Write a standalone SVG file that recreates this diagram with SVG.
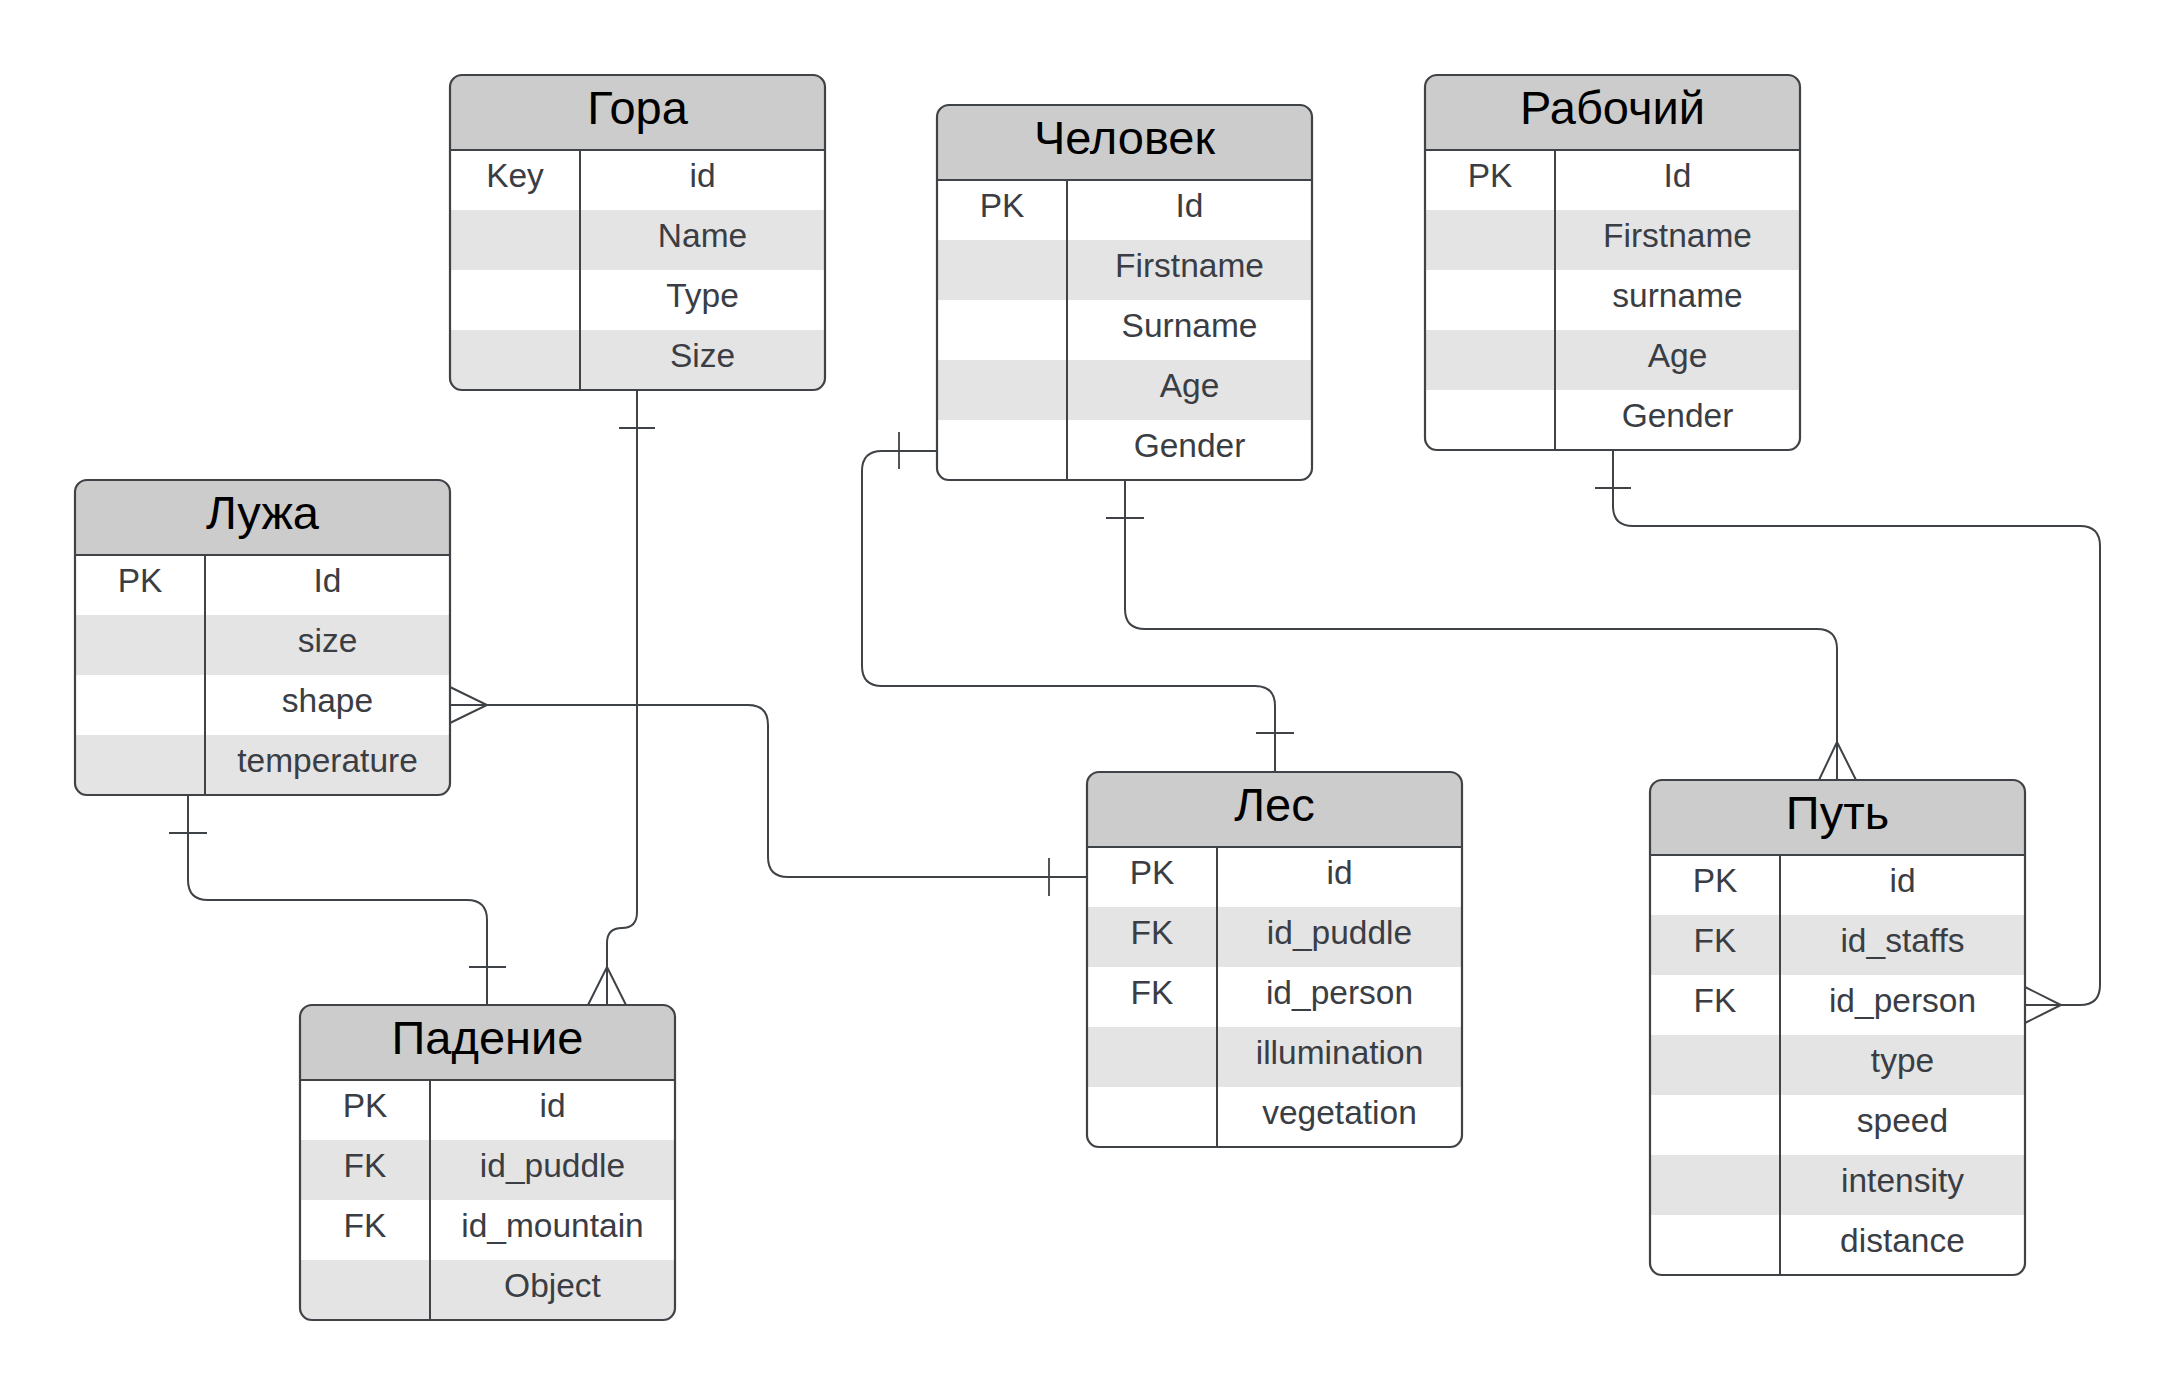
<svg xmlns="http://www.w3.org/2000/svg" width="2175" height="1395" viewBox="0 0 2175 1395">
<style>
.bg{fill:#ffffff}
.hd{fill:#cccccc}
.alt{fill:#e4e4e4}
.ln{stroke:#3f4246;stroke-width:2;fill:none}
.out{stroke:#3f4246;stroke-width:2.2;fill:none}
.title{font-family:"Liberation Sans",Arial,sans-serif;font-size:47px;fill:#000000;text-anchor:middle}
.f{font-family:"Liberation Sans",Arial,sans-serif;font-size:33.5px;fill:#3a3e44;text-anchor:middle}
.c{stroke:#3f4246;stroke-width:2;fill:none}
.bar{stroke:#3f4246;stroke-width:1.8;fill:none}
</style>
<defs>
<clipPath id="clip4"><rect x="0" y="0" width="375" height="315" rx="12"/></clipPath>
<clipPath id="clip5"><rect x="0" y="0" width="375" height="375" rx="12"/></clipPath>
<clipPath id="clip7"><rect x="0" y="0" width="375" height="495" rx="12"/></clipPath>
</defs>
<rect x="0" y="0" width="2175" height="1395" fill="#ffffff"/>

<g id="connectors">
<!-- Гора -> Падение -->
<path class="c" d="M637,390 V912 Q637,928 622,928 Q607,928 607,943 V1005"/>
<path class="bar" d="M619,428 H655"/>
<path class="c" d="M588,1005 L607,967 L626,1005"/>
<!-- Лужа -> Падение -->
<path class="c" d="M188,795 V880 Q188,900 208,900 H467 Q487,900 487,920 V1005"/>
<path class="bar" d="M169,833 H207"/>
<path class="bar" d="M469,967 H506"/>
<!-- Лужа -> Лес -->
<path class="c" d="M450,705 H748 Q768,705 768,725 V857 Q768,877 788,877 H1087"/>
<path class="c" d="M450,687 L487,705 L450,723"/>
<path class="bar" d="M1049,858 V896"/>
<!-- Человек -> Лес -->
<path class="c" d="M937,451 H882 Q862,451 862,471 V666 Q862,686 882,686 H1255 Q1275,686 1275,706 V772"/>
<path class="bar" d="M899,432 V469"/>
<path class="bar" d="M1256,733 H1294"/>
<!-- Человек -> Путь -->
<path class="c" d="M1125,480 V609 Q1125,629 1145,629 H1817 Q1837,629 1837,649 V780"/>
<path class="bar" d="M1106,518 H1144"/>
<path class="c" d="M1819,780 L1837,742 L1856,780"/>
<!-- Рабочий -> Путь -->
<path class="c" d="M1613,450 V506 Q1613,526 1633,526 H2080 Q2100,526 2100,546 V985 Q2100,1005 2080,1005 H2025"/>
<path class="bar" d="M1595,488 H1631"/>
<path class="c" d="M2025,987 L2061,1005 L2025,1023"/>
</g>

<g id="gora" transform="translate(450,75)">
<g clip-path="url(#clip4)">
<rect class="bg" x="0" y="0" width="375" height="315"/>
<rect class="hd" x="0" y="0" width="375" height="75"/>
<rect class="alt" x="0" y="135" width="375" height="60"/>
<rect class="alt" x="0" y="255" width="375" height="60"/>
</g>
<path class="ln" d="M0,75 H375 M130,75 V315"/>
<rect class="out" x="0" y="0" width="375" height="315" rx="12"/>
<text class="title" x="187.5" y="49">Гора</text>
<text class="f" x="65" y="112">Key</text>
<text class="f" x="252.5" y="112">id</text>
<text class="f" x="252.5" y="172">Name</text>
<text class="f" x="252.5" y="232">Type</text>
<text class="f" x="252.5" y="292">Size</text>
</g>

<g id="luzha" transform="translate(75,480)">
<g clip-path="url(#clip4)">
<rect class="bg" x="0" y="0" width="375" height="315"/>
<rect class="hd" x="0" y="0" width="375" height="75"/>
<rect class="alt" x="0" y="135" width="375" height="60"/>
<rect class="alt" x="0" y="255" width="375" height="60"/>
</g>
<path class="ln" d="M0,75 H375 M130,75 V315"/>
<rect class="out" x="0" y="0" width="375" height="315" rx="12"/>
<text class="title" x="187.5" y="49">Лужа</text>
<text class="f" x="65" y="112">PK</text>
<text class="f" x="252.5" y="112">Id</text>
<text class="f" x="252.5" y="172">size</text>
<text class="f" x="252.5" y="232">shape</text>
<text class="f" x="252.5" y="292">temperature</text>
</g>

<g id="chelovek" transform="translate(937,105)">
<g clip-path="url(#clip5)">
<rect class="bg" x="0" y="0" width="375" height="375"/>
<rect class="hd" x="0" y="0" width="375" height="75"/>
<rect class="alt" x="0" y="135" width="375" height="60"/>
<rect class="alt" x="0" y="255" width="375" height="60"/>
</g>
<path class="ln" d="M0,75 H375 M130,75 V375"/>
<rect class="out" x="0" y="0" width="375" height="375" rx="12"/>
<text class="title" x="187.5" y="49">Человек</text>
<text class="f" x="65" y="112">PK</text>
<text class="f" x="252.5" y="112">Id</text>
<text class="f" x="252.5" y="172">Firstname</text>
<text class="f" x="252.5" y="232">Surname</text>
<text class="f" x="252.5" y="292">Age</text>
<text class="f" x="252.5" y="352">Gender</text>
</g>

<g id="rabochiy" transform="translate(1425,75)">
<g clip-path="url(#clip5)">
<rect class="bg" x="0" y="0" width="375" height="375"/>
<rect class="hd" x="0" y="0" width="375" height="75"/>
<rect class="alt" x="0" y="135" width="375" height="60"/>
<rect class="alt" x="0" y="255" width="375" height="60"/>
</g>
<path class="ln" d="M0,75 H375 M130,75 V375"/>
<rect class="out" x="0" y="0" width="375" height="375" rx="12"/>
<text class="title" x="187.5" y="49">Рабочий</text>
<text class="f" x="65" y="112">PK</text>
<text class="f" x="252.5" y="112">Id</text>
<text class="f" x="252.5" y="172">Firstname</text>
<text class="f" x="252.5" y="232">surname</text>
<text class="f" x="252.5" y="292">Age</text>
<text class="f" x="252.5" y="352">Gender</text>
</g>

<g id="les" transform="translate(1087,772)">
<g clip-path="url(#clip5)">
<rect class="bg" x="0" y="0" width="375" height="375"/>
<rect class="hd" x="0" y="0" width="375" height="75"/>
<rect class="alt" x="0" y="135" width="375" height="60"/>
<rect class="alt" x="0" y="255" width="375" height="60"/>
</g>
<path class="ln" d="M0,75 H375 M130,75 V375"/>
<rect class="out" x="0" y="0" width="375" height="375" rx="12"/>
<text class="title" x="187.5" y="49">Лес</text>
<text class="f" x="65" y="112">PK</text>
<text class="f" x="252.5" y="112">id</text>
<text class="f" x="65" y="172">FK</text>
<text class="f" x="252.5" y="172">id_puddle</text>
<text class="f" x="65" y="232">FK</text>
<text class="f" x="252.5" y="232">id_person</text>
<text class="f" x="252.5" y="292">illumination</text>
<text class="f" x="252.5" y="352">vegetation</text>
</g>

<g id="put" transform="translate(1650,780)">
<g clip-path="url(#clip7)">
<rect class="bg" x="0" y="0" width="375" height="495"/>
<rect class="hd" x="0" y="0" width="375" height="75"/>
<rect class="alt" x="0" y="135" width="375" height="60"/>
<rect class="alt" x="0" y="255" width="375" height="60"/>
<rect class="alt" x="0" y="375" width="375" height="60"/>
</g>
<path class="ln" d="M0,75 H375 M130,75 V495"/>
<rect class="out" x="0" y="0" width="375" height="495" rx="12"/>
<text class="title" x="187.5" y="49">Путь</text>
<text class="f" x="65" y="112">PK</text>
<text class="f" x="252.5" y="112">id</text>
<text class="f" x="65" y="172">FK</text>
<text class="f" x="252.5" y="172">id_staffs</text>
<text class="f" x="65" y="232">FK</text>
<text class="f" x="252.5" y="232">id_person</text>
<text class="f" x="252.5" y="292">type</text>
<text class="f" x="252.5" y="352">speed</text>
<text class="f" x="252.5" y="412">intensity</text>
<text class="f" x="252.5" y="472">distance</text>
</g>

<g id="padenie" transform="translate(300,1005)">
<g clip-path="url(#clip4)">
<rect class="bg" x="0" y="0" width="375" height="315"/>
<rect class="hd" x="0" y="0" width="375" height="75"/>
<rect class="alt" x="0" y="135" width="375" height="60"/>
<rect class="alt" x="0" y="255" width="375" height="60"/>
</g>
<path class="ln" d="M0,75 H375 M130,75 V315"/>
<rect class="out" x="0" y="0" width="375" height="315" rx="12"/>
<text class="title" x="187.5" y="49">Падение</text>
<text class="f" x="65" y="112">PK</text>
<text class="f" x="252.5" y="112">id</text>
<text class="f" x="65" y="172">FK</text>
<text class="f" x="252.5" y="172">id_puddle</text>
<text class="f" x="65" y="232">FK</text>
<text class="f" x="252.5" y="232">id_mountain</text>
<text class="f" x="252.5" y="292">Object</text>
</g>
</svg>
